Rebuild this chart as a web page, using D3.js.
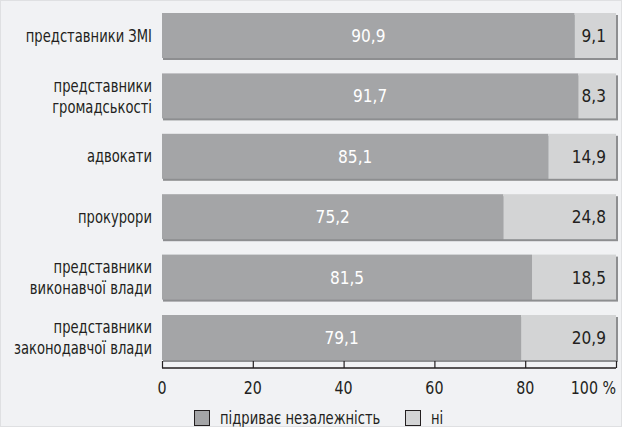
<!DOCTYPE html>
<html>
<head>
<meta charset="utf-8">
<script src="https://cdn.jsdelivr.net/npm/d3@7"></script>
<style>
  html, body { margin: 0; padding: 0; background: #f1f2f4; }
  svg { display: block; font-family: "Liberation Sans Narrow", "DejaVu Sans Condensed", "DejaVu Sans", sans-serif; }
</style>
</head>
<body>
<div id="chart"></div>
<script>
// Categories (top to bottom), with line breaks for the axis labels
const categories = [
    ['представники ЗМІ'],
    ['представники', 'громадськості'],
    ['адвокати'],
    ['прокурори'],
    ['представники', 'виконавчої влади'],
    ['представники', 'законодавчої влади'],
];
const undermines = [90.9, 91.7, 85.1, 75.2, 81.5, 79.1];
const notUndermines = [9.1, 8.3, 14.9, 24.8, 18.5, 20.9];
const tickValues = [0, 20, 40, 60, 80, 100];
const legendLabels = ['підриває незалежність', 'ні'];

const W = 622, H = 427;
const margin = { left: 162, right: 6, top: 13 };
const DARK = '#a4a5a7', LIGHT = '#d3d4d5', SHADOW = '#8d8e90', INK = '#231f20';

const fmt = v => v.toFixed(1).replace('.', ',');
// horizontal squeeze around an anchor x, to mimic the condensed face
const squeeze = (k, ax, ay) => `translate(${ax},${ay || 0}) scale(${k},1)`;

const svg = d3.select('#chart').append('svg')
    .attr('width', W).attr('height', H);

svg.append('rect')
    .attr('x', 0.5).attr('y', 0.5)
    .attr('width', W - 1).attr('height', H - 1)
    .attr('fill', '#f1f2f4')
    .attr('stroke', '#dfe0e2');

const x = d3.scaleLinear().domain([0, 100]).range([margin.left, W - margin.right]);
const y = d3.scaleBand()
    .domain(d3.range(categories.length))
    .range([margin.top, 360])
    .paddingInner(0.255)
    .paddingOuter(0);

const rows = svg.append('g').selectAll('g')
    .data(d3.range(categories.length))
    .join('g');

// shadow
rows.append('rect')
    .attr('x', x(0) + 1)
    .attr('y', i => y(i) + 2)
    .attr('width', x(100) - x(0) + 1)
    .attr('height', y.bandwidth())
    .attr('fill', SHADOW);

// dark segment
rows.append('rect')
    .attr('x', x(0))
    .attr('y', i => y(i))
    .attr('width', i => x(undermines[i]) - x(0))
    .attr('height', y.bandwidth())
    .attr('fill', DARK);

// light segment
rows.append('rect')
    .attr('x', i => x(undermines[i]))
    .attr('y', i => y(i))
    .attr('width', i => x(100) - x(undermines[i]))
    .attr('height', y.bandwidth())
    .attr('fill', LIGHT);

// value labels
rows.append('text')
    .attr('transform', i => squeeze(0.95, (x(0) + x(undermines[i])) / 2, y(i) + y.bandwidth() / 2))
    .attr('dy', '0.36em')
    .attr('text-anchor', 'middle')
    .attr('fill', '#ffffff')
    .attr('font-size', '18px')
    .text(i => fmt(undermines[i]));

rows.append('text')
    .attr('transform', i => squeeze(0.95, x(100) - 10, y(i) + y.bandwidth() / 2))
    .attr('dy', '0.36em')
    .attr('text-anchor', 'end')
    .attr('fill', INK)
    .attr('font-size', '18px')
    .text(i => fmt(notUndermines[i]));

// category labels
rows.append('text')
    .attr('transform', squeeze(0.86, 152))
    .attr('text-anchor', 'end')
    .attr('fill', INK)
    .attr('font-size', '17px')
    .each(function (i) {
        const lines = categories[i];
        const cy = y(i) + y.bandwidth() / 2;
        const lh = 21;
        d3.select(this).selectAll('tspan')
            .data(lines)
            .join('tspan')
            .attr('x', 0)
            .attr('y', (d, k) => cy + (k - (lines.length - 1) / 2) * lh)
            .attr('dy', '0.36em')
            .text(d => d);
    });

// axis
const axisY = 368;
const axis = svg.append('g')
    .attr('transform', `translate(0,${axisY})`)
    .call(d3.axisTop(x).tickValues(tickValues).tickSize(7).tickFormat(''));
axis.select('.domain').remove();
axis.selectAll('line').attr('stroke', INK).attr('stroke-width', 1.2);
svg.append('line')
    .attr('x1', x(0)).attr('x2', x(100))
    .attr('y1', axisY).attr('y2', axisY)
    .attr('stroke', INK).attr('stroke-width', 1.5);

svg.append('g').selectAll('text')
    .data(tickValues)
    .join('text')
    .attr('transform', d => squeeze(0.88, x(d), 388))
    .attr('dy', '0.36em')
    .attr('text-anchor', d => d === 100 ? 'end' : 'middle')
    .attr('fill', INK)
    .attr('font-size', '18px')
    .text(d => d === 100 ? '100 %' : d);

// legend
const legendItems = [
    { label: legendLabels[0], color: DARK, x: 194 },
    { label: legendLabels[1], color: LIGHT, x: 405 },
];
const lg = svg.append('g').selectAll('g')
    .data(legendItems)
    .join('g')
    .attr('transform', d => `translate(${d.x},410)`);
lg.append('rect')
    .attr('x', 0.5).attr('y', 0.5)
    .attr('width', 15).attr('height', 15)
    .attr('fill', d => d.color)
    .attr('stroke', INK).attr('stroke-width', 1);
lg.append('text')
    .attr('transform', squeeze(0.86, 26, 8))
    .attr('dy', '0.36em')
    .attr('fill', INK)
    .attr('font-size', '17px')
    .text(d => d.label);
</script>
</body>
</html>
